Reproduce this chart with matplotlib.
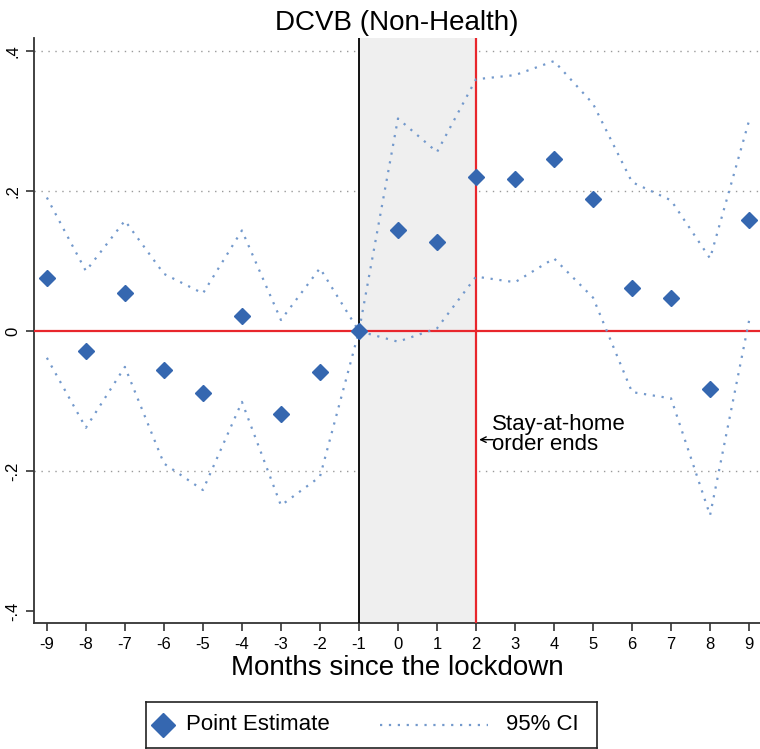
import matplotlib
matplotlib.use("Agg")
import matplotlib.pyplot as plt
from matplotlib.patches import Rectangle
from matplotlib.lines import Line2D

plt.rcParams['font.family'] = ['Liberation Sans', 'DejaVu Sans']

months = [-9, -8, -7, -6, -5, -4, -3, -2, -1, 0, 1, 2, 3, 4, 5, 6, 7, 8, 9]
point_est = [0.076, -0.028, 0.054, -0.056, -0.088, 0.022, -0.119, -0.059, 0.0,
             0.144, 0.127, 0.220, 0.217, 0.246, 0.189, 0.062, 0.048, -0.083, 0.159]
ci_upper = [0.191, 0.086, 0.158, 0.082, 0.054, 0.144, 0.016, 0.090, 0.0,
            0.304, 0.256, 0.360, 0.366, 0.386, 0.325, 0.213, 0.187, 0.104, 0.301]
ci_lower = [-0.038, -0.138, -0.051, -0.189, -0.227, -0.101, -0.249, -0.208, 0.0,
            -0.015, 0.004, 0.078, 0.070, 0.104, 0.048, -0.087, -0.096, -0.263, 0.015]
yticks = [-0.4, -0.2, 0.0, 0.2, 0.4]
ytick_labels = ['-.4', '-.2', '0', '.2', '.4']
grid_levels = [-0.2, 0.2, 0.4]

blue = '#3567b0'
ci_color = '#7399cc'
red = '#e8262c'

W, H = 760, 749
fig = plt.figure(figsize=(W / 100, H / 100), dpi=100)
ax = fig.add_axes([34 / W, 1 - 623 / H, 1 - 34 / W, (623 - 38) / H])

ax.set_xlim(-9.33, 9.28)
ax.set_ylim(-0.417, 0.419)

for g in grid_levels:
    ax.axhline(g, color='#9a9a9a', lw=1.0, ls=(0, (1, 4)), zorder=1)

ax.axvspan(-1, 2, color='#efefef', zorder=2, lw=0)
ax.axhline(0, color=red, lw=1.6, zorder=3)
ax.axvline(-1, color='black', lw=1.3, zorder=3)
ax.axvline(2, color=red, lw=1.6, zorder=3)

ax.plot(months, ci_upper, color=ci_color, lw=1.6, ls=(0, (1, 3)), zorder=4)
ax.plot(months, ci_lower, color=ci_color, lw=1.6, ls=(0, (1, 3)), zorder=4)
ax.plot(months, point_est, 'D', color=blue, ms=8.5, mec=blue, zorder=5, clip_on=False)

ax.set_xticks(months)
ax.set_xticklabels([str(m) for m in months], fontsize=12)
ax.set_yticks(yticks)
ax.set_yticklabels(ytick_labels, fontsize=12, rotation=90, va='center')
ax.tick_params(axis='both', direction='out', length=6, width=1.2, color='#333333', pad=4)
for s in ['top', 'right']:
    ax.spines[s].set_visible(False)
for s in ['left', 'bottom']:
    ax.spines[s].set_color('#333333')
    ax.spines[s].set_linewidth(1.3)

ax.set_title('DCVB (Non-Health)', fontsize=20, pad=6)
ax.set_xlabel('Months since the lockdown', fontsize=20, labelpad=2)

ax.annotate('', xy=(2.08, -0.155), xytext=(2.44, -0.155),
            arrowprops=dict(arrowstyle='->', color='black', lw=1.0, shrinkA=0, shrinkB=0), zorder=6)
ax.text(2.42, -0.148, 'Stay-at-home\norder ends', fontsize=16, ha='left', va='center',
        linespacing=0.95, zorder=6)

# legend box
lx0, lx1, ly0, ly1 = 146 / W, 597 / W, 1 - 748 / H, 1 - 702 / H
lax = fig.add_axes([lx0, ly0, lx1 - lx0, ly1 - ly0])
lax.set_xlim(0, lx1 * W - lx0 * W)
lax.set_ylim(0, 1)
lax.set_xticks([])
lax.set_yticks([])
for s in lax.spines.values():
    s.set_color('#222222')
    s.set_linewidth(1.2)
lax.plot([17], [0.5], 'D', color=blue, ms=12, mec=blue)
lax.text(40, 0.5, 'Point Estimate', fontsize=16, va='center', ha='left')
lax.plot([234, 342], [0.5, 0.5], color=ci_color, lw=1.6, ls=(0, (1, 3)))
lax.text(360, 0.5, '95% CI', fontsize=16, va='center', ha='left')

fig.savefig('out.png', dpi=100)
